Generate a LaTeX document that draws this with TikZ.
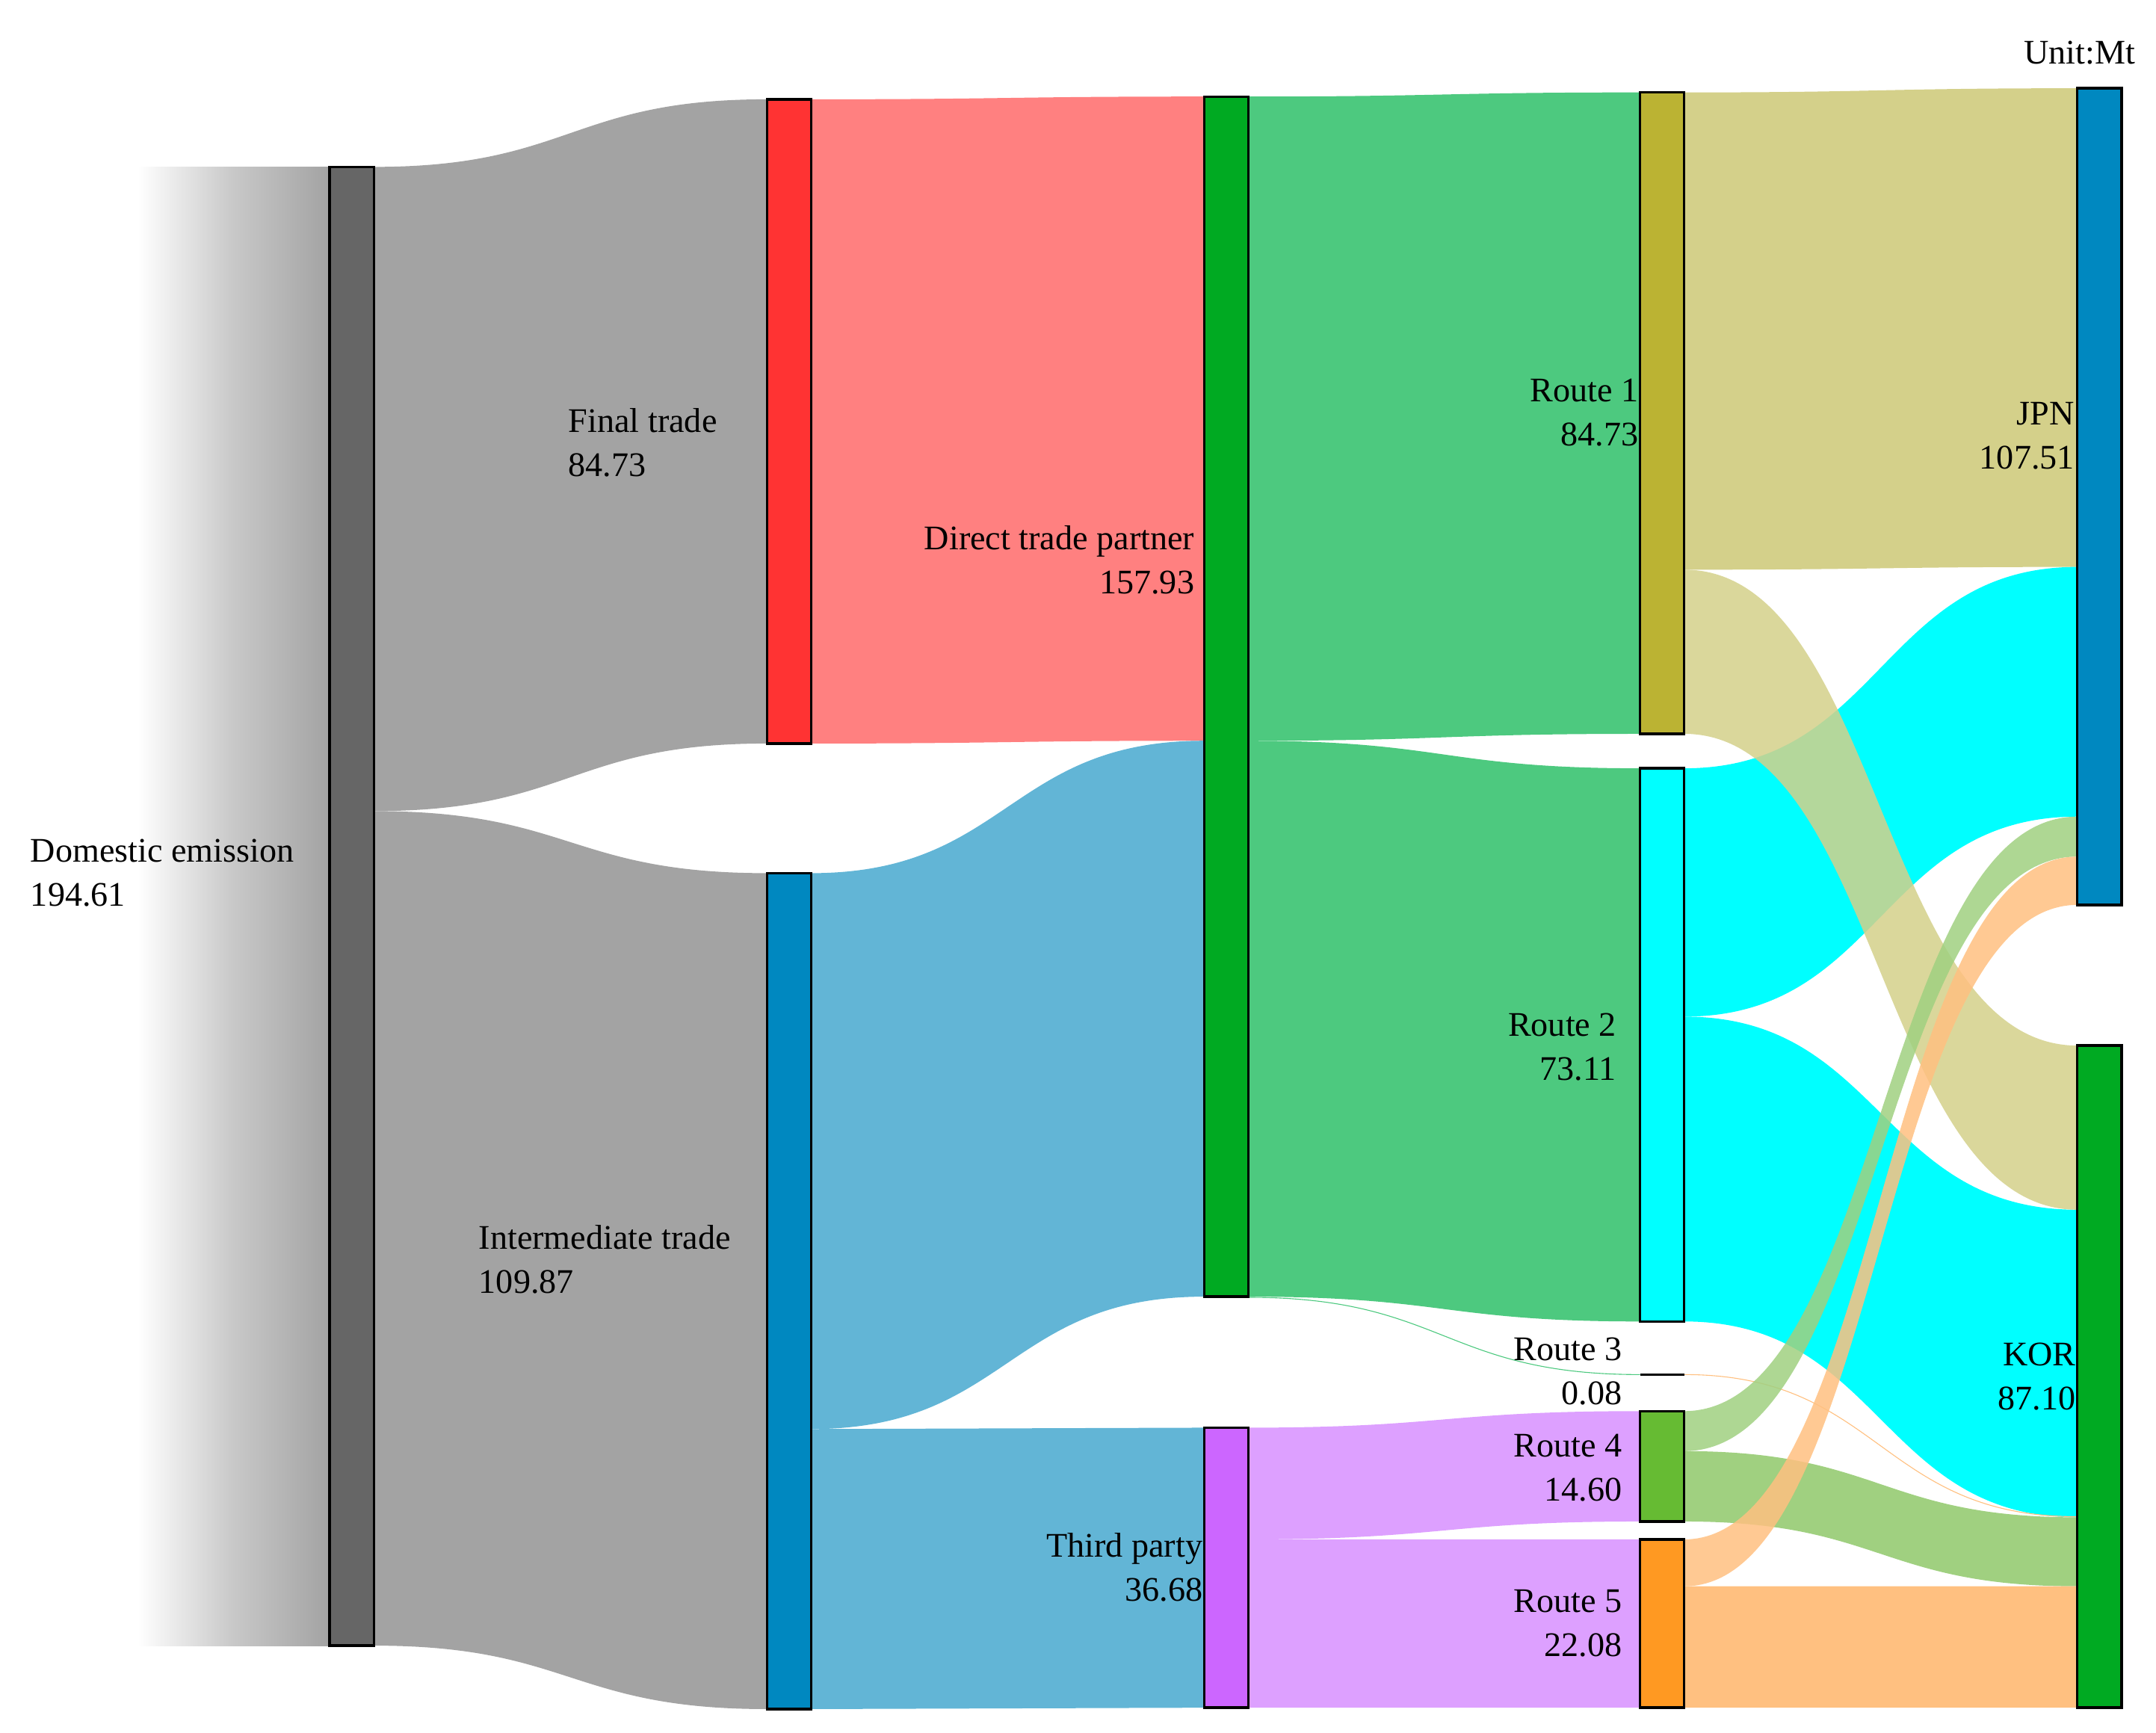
\documentclass[tikz,border=0pt]{standalone}
\usepackage{fontspec}
\setmainfont{Liberation Serif}
\begin{document}
\begin{tikzpicture}[x=1pt,y=-1pt,
 bar/.style={draw=black,line width=1.8pt},
 lab/.style={font=\fontsize{25}{32}\selectfont,align=left,anchor=west,inner sep=0pt},
 labr/.style={font=\fontsize{25}{32}\selectfont,align=right,anchor=east,inner sep=0pt}]
\useasboundingbox (0,0) rectangle (1563,1256);
\definecolor{gr}{HTML}{A3A3A3}
\definecolor{lred}{HTML}{FF8080}
\definecolor{lblue}{HTML}{62B5D6}
\definecolor{lgreen}{HTML}{4DC97F}
\definecolor{lpurp}{HTML}{DDA0FF}
\definecolor{lolive}{HTML}{D4D08A}
\definecolor{lcyan}{HTML}{00FFFF}
\definecolor{lg4}{HTML}{A0D080}
\definecolor{lor}{HTML}{FFC080}
\newcommand\lnk[7]{\fill[#7] (#1,#2) .. controls ({(#1+#4)/2},#2) and ({(#1+#4)/2},#5) .. (#4,#5) -- (#4,#6) .. controls ({(#1+#4)/2},#6) and ({(#1+#4)/2},#3) .. (#1,#3) -- cycle;}
% domestic gradient
\shade[left color=white,right color=gr,middle color=gr!60] (100,121) rectangle (239,1193);
% links
\lnk{271}{121}{588}{556}{72}{539}{gr}
\lnk{271}{588}{1193}{556}{633}{1239}{gr}
\lnk{588}{72}{539}{873}{70}{537}{lred}
\lnk{588}{633}{1036}{873}{537}{940}{lblue}
\lnk{588}{1036}{1239}{873}{1035}{1238}{lblue}
\lnk{905}{70}{537}{1189}{67}{532}{lgreen}
\lnk{905}{537}{940}{1189}{557}{958}{lgreen}
\draw[lgreen,line width=0.6pt] (905,940.5) .. controls (1047,940.5) and (1047,996.5) .. (1189,996.5);
\lnk{905}{1035}{1116}{1189}{1023}{1103}{lpurp}
\lnk{905}{1116}{1238}{1189}{1116}{1238}{lpurp}
\lnk{1221}{67}{413}{1506}{64}{411}{lolive}
\lnk{1221}{557}{737}{1506}{411}{592}{lcyan}
\lnk{1221}{737}{958}{1506}{877}{1100}{lcyan}
\draw[lor,line width=0.6pt] (1221,996.5) .. controls (1363,996.5) and (1363,1099.5) .. (1506,1099.5);
\lnk{1221}{1052}{1103}{1506}{1100}{1150}{lg4}
\lnk{1221}{1150}{1238}{1506}{1150}{1238}{lor}
\fill[lolive,opacity=0.85] (1221,413) .. controls (1363,413) and (1363,758) .. (1506,758) -- (1506,877) .. controls (1363,877) and (1363,532) .. (1221,532) -- cycle;
\fill[lg4,opacity=0.85] (1221,1023) .. controls (1363,1023) and (1363,592) .. (1506,592) -- (1506,621) .. controls (1363,621) and (1363,1052) .. (1221,1052) -- cycle;
\fill[lor,opacity=0.85] (1221,1116) .. controls (1363,1116) and (1363,621) .. (1506,621) -- (1506,656) .. controls (1363,656) and (1363,1150) .. (1221,1150) -- cycle;
% bars
\draw[bar,fill=black!60] (239,121) rectangle (271,1193);
\draw[bar,fill={rgb,255:red,255;green,51;blue,51}] (556,72) rectangle (588,539);
\draw[bar,fill={rgb,255:red,0;green,136;blue,192}] (556,633) rectangle (588,1239);
\draw[bar,fill={rgb,255:red,0;green,170;blue,34}] (873,70) rectangle (905,940);
\draw[bar,fill={rgb,255:red,204;green,102;blue,255}] (873,1035) rectangle (905,1238);
\draw[bar,fill={rgb,255:red,187;green,179;blue,51}] (1189,67) rectangle (1221,532);
\draw[bar,fill=lcyan] (1189,557) rectangle (1221,958);
\draw[bar] (1189,996.5) -- (1221,996.5);
\draw[bar,fill={rgb,255:red,102;green,187;blue,51}] (1189,1023) rectangle (1221,1103);
\draw[bar,fill={rgb,255:red,255;green,153;blue,34}] (1189,1116) rectangle (1221,1238);
\draw[bar,fill={rgb,255:red,0;green,136;blue,192}] (1506,64) rectangle (1538,656);
\draw[bar,fill={rgb,255:red,0;green,170;blue,34}] (1506,758) rectangle (1538,1238);
% labels
\node[lab] (l1) at (22,633) {Domestic emission\\194.61};
\node[lab] (l2) at (412,321) {Final trade\\84.73};
\node[lab] (l3) at (347,913) {Intermediate trade\\109.87};
\node[labr] (l4) at (866,406) {Direct trade partner\\157.93};
\node[labr] (l5) at (872,1136) {Third party\\36.68};
\node[labr] (l6) at (1188,299) {Route 1\\84.73};
\node[labr] (l7) at (1172,759) {Route 2\\73.11};
\node[labr] (l8) at (1176,994) {Route 3\\0.08};
\node[labr] (l9) at (1176,1064) {Route 4\\14.60};
\node[labr] (l10) at (1176,1177) {Route 5\\22.08};
\node[labr] (l11) at (1504,316) {JPN\\107.51};
\node[labr] (l12) at (1505,998) {KOR\\87.10};
\node[labr] (u) at (1548,38) {Unit:Mt};
\end{tikzpicture}
\end{document}
